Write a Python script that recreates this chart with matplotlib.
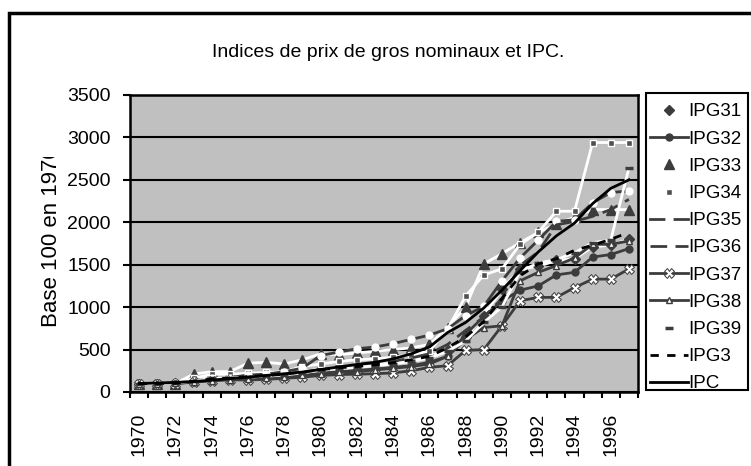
import numpy as np
import matplotlib
matplotlib.use("Agg")
from matplotlib import pyplot as plt
from matplotlib.patches import Rectangle

plt.rcParams["font.family"] = ["Liberation Sans", "DejaVu Sans"]

years = list(range(1970, 1998))

ipg31 = [100, 100, 105, 140, 170, 175, 190, 200, 215, 240, 270, 290, 300, 320,
         340, 370, 420, 500, 650, 900, 1210, 1450, 1480, 1550, 1570, 1710, 1730, 1800]
ipg32 = [100, 100, 102, 120, 140, 150, 160, 170, 185, 200, 220, 240, 255, 270,
         290, 310, 350, 420, 680, 890, 1070, 1200, 1250, 1380, 1410, 1590, 1620, 1690]
ipg33 = [100, 100, 100, 210, 240, 240, 340, 350, 330, 380, 450, 440, 460, 480,
         500, 520, 560, 760, 1000, 1510, 1630, 1760, 1880, 1980, 2060, 2150, 2150, 2150]
ipg34 = [100, 100, 105, 160, 210, 210, 220, 230, 240, 300, 330, 360, 380, 390,
         410, 440, 480, 740, 1130, 1380, 1450, 1740, 1880, 2130, 2130, 2940, 2940, 2940]
ipg35 = [100, 100, 105, 130, 160, 170, 200, 210, 240, 280, 430, 470, 510, 530,
         570, 620, 670, 745, 900, 1010, 1310, 1580, 1790, 2010, 2030, 2230, 2350, 2370]
ipg36 = [100, 100, 103, 125, 150, 160, 175, 190, 205, 230, 260, 280, 300, 330,
         360, 400, 450, 560, 726, 883, 1100, 1490, 1650, 1970, 2010, 2070, 2150, 2270]
ipg37 = [100, 100, 100, 115, 135, 145, 140, 150, 160, 175, 195, 205, 210, 215,
         225, 250, 290, 310, 490, 500, 780, 1075, 1115, 1115, 1230, 1330, 1330, 1450]
ipg38 = [100, 100, 102, 118, 135, 145, 150, 165, 175, 195, 215, 230, 240, 260,
         280, 300, 330, 420, 620, 760, 780, 1310, 1410, 1490, 1580, 1740, 1740, 1780]
ipg39 = [100, 100, 104, 130, 160, 165, 175, 185, 200, 225, 255, 275, 290, 310,
         330, 360, 400, 480, 600, 820, 1000, 1420, 1520, 1560, 1640, 1760, 1790, 2640]
ipg3 = [100, 100, 103, 128, 155, 163, 180, 192, 210, 235, 262, 285, 300, 320,
        345, 380, 420, 520, 650, 830, 1100, 1370, 1510, 1570, 1670, 1730, 1800, 1880]
ipc = [100, 106, 113, 123, 140, 158, 175, 195, 215, 235, 265, 295, 325, 350,
       390, 450, 530, 700, 820, 990, 1200, 1430, 1650, 1840, 1990, 2220, 2400, 2500]

x = np.arange(len(years))
dark = "#3c3c3c"

fig = plt.figure(figsize=(7.51, 4.66), dpi=100)
ax = fig.add_axes([130 / 751, 1 - 392 / 466, 508 / 751, 297 / 466])
ax.set_facecolor("#c0c0c0")

ax.plot(x, ipg31, color="white", lw=2, marker="D", ms=5, mfc=dark, mec=dark, label="IPG31")
ax.plot(x, ipg32, color=dark, lw=2, marker="o", ms=5, mfc=dark, mec=dark, label="IPG32")
ax.plot(x, ipg33, color="white", lw=2, marker="^", ms=7, mfc=dark, mec=dark, label="IPG33")
ax.plot(x, ipg34, color="white", lw=2, marker="s", ms=5, mfc="#505050", mec="white", mew=1, label="IPG34")
ax.plot(x, ipg35, color=dark, lw=2, marker="o", ms=5, mfc="white", mec="white", label="IPG35")
ax.plot(x, ipg36, color=dark, lw=2, dashes=(6, 3), label="IPG36")
ax.plot(x, ipg37, color=dark, lw=2, marker="X", ms=6.5, mfc="white", mec=dark, mew=0.7, label="IPG37")
ax.plot(x, ipg38, color=dark, lw=2, marker="^", ms=4, mfc="white", mec=dark, label="IPG38")
ax.plot(x, ipg39, color="white", lw=2, marker="_", ms=6, mew=2.5, mec=dark, label="IPG39")
ax.plot(x, ipg3, color="black", lw=2, dashes=(3, 3), label="IPG3")
ax.plot(x, ipc, color="black", lw=2, label="IPC")

ax.set_xlim(-0.5, len(years) - 0.5)
ax.set_ylim(0, 3500)
ax.set_yticks(range(0, 3501, 500))
ax.yaxis.grid(True, color="black", lw=1.5)
ax.set_axisbelow(True)
ax.set_xticks(np.arange(-0.5, len(years), 1))
ax.set_xticklabels([])
ax.set_xticks(x[::2], minor=True)
ax.set_xticklabels([str(y) for y in years[::2]], minor=True, rotation=90)
ax.tick_params(axis="x", which="minor", length=0, pad=15, labelsize=14)
ax.tick_params(axis="x", which="major", direction="out", length=4.5, width=1.5)
ax.tick_params(axis="y", direction="out", length=5, width=1.5, labelsize=14, pad=9)
for s in ax.spines.values():
    s.set_linewidth(1.8)
    s.set_color("black")

fig.text(388 / 751, 1 - 57 / 466, "Indices de prix de gros nominaux et IPC.",
         ha="center", va="baseline", fontsize=14)

ylab = fig.text(52 / 751, 1 - 327 / 466, "Base 100 en 1970", rotation=90,
                ha="center", va="bottom", fontsize=16)
ylab.set_clip_path(Rectangle((0, 0), 1, 1 - 157 / 466, transform=fig.transFigure))

# legend box drawn by hand so the last entry is cut like in the original
box = Rectangle((646 / 751, 1 - 390 / 466), 102 / 751, 297 / 466, transform=fig.transFigure,
                facecolor="white", edgecolor="black", lw=1.5, zorder=3)
fig.add_artist(box)


def make_legend(spacing, top):
    lg = fig.legend(loc="upper left", bbox_to_anchor=(650 / 751, 1 - top / 466),
                    fontsize=13.5, frameon=False, borderaxespad=0, borderpad=0,
                    handlelength=2.0, handletextpad=0.05, labelspacing=spacing)
    lg.set_zorder(4)
    return lg


def text_rows(lg):
    fig.canvas.draw()
    r = fig.canvas.get_renderer()
    b0 = lg.get_texts()[0].get_window_extent(r)
    b1 = lg.get_texts()[-1].get_window_extent(r)
    return 466 - (b0.y0 + b0.y1) / 2, 466 - (b1.y0 + b1.y1) / 2


# rows in the original: first at y=112 px, last at y=384 px
spacing, top = 0.45, 100
leg = make_legend(spacing, top)
first, last = text_rows(leg)
step = (last - first) / 10
leg.remove()
spacing += (27.2 - step) / (13.5 * 100 / 72)
leg = make_legend(spacing, top)
first, last = text_rows(leg)
leg.remove()
leg = make_legend(spacing, top + 112 - first)
for t in leg.get_texts():
    t.set_clip_path(box)

fig.add_artist(Rectangle((9 / 751, -0.5), 2, 0.5 + 1 - 13 / 466, transform=fig.transFigure,
                         fill=False, lw=2.5, edgecolor="black"))

fig.savefig("out.png", dpi=100)
